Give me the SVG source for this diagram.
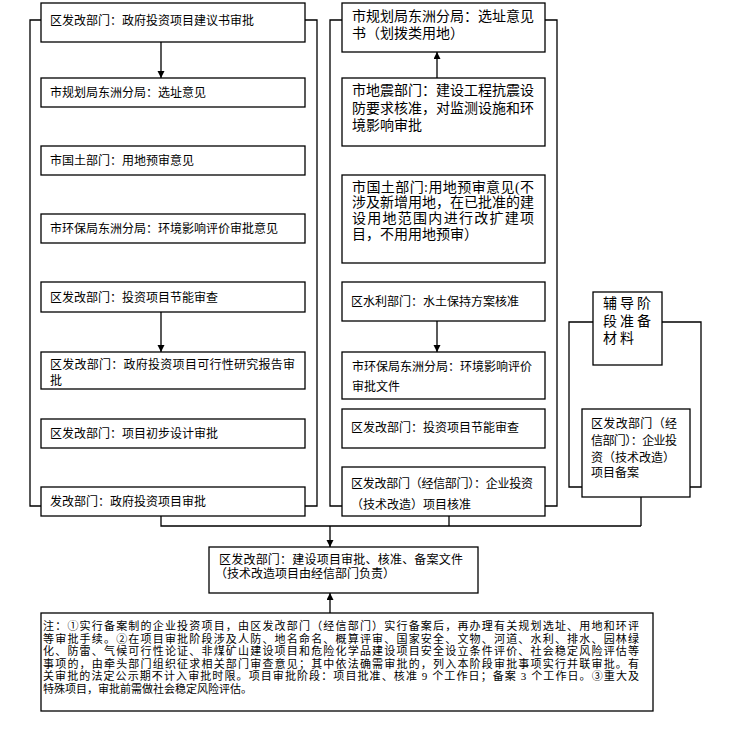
<svg xmlns="http://www.w3.org/2000/svg" width="729" height="730" viewBox="0 0 729 730">
<defs>
<marker id="arr" markerUnits="userSpaceOnUse" markerWidth="8" markerHeight="8" refX="7" refY="3.5" orient="auto">
<path d="M0,0 L7,3.5 L0,7 z" fill="#000"/>
</marker>
<style>
rect{fill:#fff;stroke:#000;stroke-width:1.3}
text{font-family:"Noto Sans CJK SC","Noto Sans CJK TC",sans-serif;font-size:12px;fill:#000}
text.m{font-family:"Liberation Serif","Noto Sans CJK SC",sans-serif}
.b{font-size:14px}
.n{font-family:"Liberation Serif","Noto Sans CJK SC",sans-serif;font-size:11px}
.c line,.c polyline{stroke:#000;stroke-width:1.3;fill:none}
.a{marker-end:url(#arr)}
</style>
</defs>
<rect x="0" y="0" width="729" height="730" style="fill:#fff;stroke:none"/>
<g class="c" id="connectors">
<polyline points="41,20 30,20 30,506 41,506"/>
<polyline points="305,20 317,20 317,506 305,506"/>
<polyline points="342,20 330,20 330,506 342,506"/>
<polyline points="545,20 557,20 557,506 545,506"/>
<polyline points="593,322 569,322 569,487 582,487"/>
<polyline points="662,322 701,322 701,487 690,487"/>
<line class="a" x1="161" y1="42" x2="161" y2="78"/>
<line class="a" x1="161" y1="312" x2="161" y2="352"/>
<line class="a" x1="437" y1="78" x2="437" y2="52"/>
<line class="a" x1="437" y1="321" x2="437" y2="352"/>
<polyline points="161,516 161,526 641,526"/>
<line x1="449" y1="516" x2="449" y2="526"/>
<line x1="641" y1="497" x2="641" y2="526"/>
<line class="a" x1="330" y1="526" x2="330" y2="547"/>
<line class="a" x1="330" y1="613" x2="330" y2="593"/>
</g>
<g id="L1"><rect x="41" y="3" width="264" height="39"/><text x="50" y="25">区发改部门：政府投资项目建议书审批</text></g>
<g id="L2"><rect x="41" y="78" width="264" height="29"/><text x="50" y="97">市规划局东洲分局：选址意见</text></g>
<g id="L3"><rect x="41" y="146" width="264" height="29"/><text x="50" y="165">市国土部门：用地预审意见</text></g>
<g id="L4"><rect x="41" y="214" width="264" height="29"/><text x="50" y="233">市环保局东洲分局：环境影响评价审批意见</text></g>
<g id="L5"><rect x="41" y="282" width="264" height="30"/><text x="50" y="302">区发改部门：投资项目节能审查</text></g>
<g id="L6"><rect x="41" y="352" width="264" height="37"/><text class="m"><tspan x="50" y="369" textLength="245" lengthAdjust="spacing">区发改部门：政府投资项目可行性研究报告审</tspan><tspan x="50" y="385">批</tspan></text></g>
<g id="L7"><rect x="41" y="419" width="264" height="29"/><text x="50" y="438">区发改部门：项目初步设计审批</text></g>
<g id="L8"><rect x="41" y="487" width="264" height="29"/><text x="50" y="506">发改部门：政府投资项目审批</text></g>
<g id="R1"><rect x="342" y="3" width="203" height="49"/><text class="b m"><tspan x="352" y="21">市规划局东洲分局：选址意见</tspan><tspan x="352" y="38">书（划拨类用地）</tspan></text></g>
<g id="R2"><rect x="342" y="78" width="203" height="68"/><text class="b m"><tspan x="352" y="95">市地震部门：建设工程抗震设</tspan><tspan x="352" y="113">防要求核准，对监测设施和环</tspan><tspan x="352" y="130">境影响审批</tspan></text></g>
<g id="R3"><rect x="342" y="175" width="203" height="88"/><text class="b m"><tspan x="352" y="191.5" textLength="182" lengthAdjust="spacing">市国土部门:用地预审意见(不</tspan><tspan x="352" y="207.3">涉及新增用地，在已批准的建</tspan><tspan x="352" y="223.1" textLength="182" lengthAdjust="spacing">设用地范围内进行改扩建项</tspan><tspan x="352" y="238.9">目，不用用地预审）</tspan></text></g>
<g id="R4"><rect x="342" y="282" width="203" height="39"/><text x="351" y="306">区水利部门：水土保持方案核准</text></g>
<g id="R5"><rect x="342" y="352" width="203" height="47"/><text class="m"><tspan x="352" y="371">市环保局东洲分局：环境影响评价</tspan><tspan x="352" y="391">审批文件</tspan></text></g>
<g id="R6"><rect x="342" y="409" width="203" height="39"/><text x="351" y="432">区发改部门：投资项目节能审查</text></g>
<g id="R7"><rect x="342" y="467" width="203" height="49"/><text class="m"><tspan x="351" y="488" textLength="182" lengthAdjust="spacing">区发改部门（经信部门）：企业投资</tspan><tspan x="351" y="509">（技术改造）项目核准</tspan></text></g>
<g id="S1"><rect x="593" y="292" width="69" height="73"/><text class="b m" letter-spacing="3"><tspan x="603" y="308">辅导阶</tspan><tspan x="603" y="325.5">段准备</tspan><tspan x="603" y="343">材料</tspan></text></g>
<g id="S2"><rect x="582" y="409" width="108" height="88"/><text class="m"><tspan x="591" y="428" textLength="86" lengthAdjust="spacing">区发改部门（经</tspan><tspan x="591" y="445" textLength="86" lengthAdjust="spacing">信部门）：企业投</tspan><tspan x="591" y="462">资（技术改造）</tspan><tspan x="591" y="477">项目备案</tspan></text></g>
<g id="B1"><rect x="209" y="547" width="269" height="46"/><text class="m"><tspan x="219" y="564" textLength="244" lengthAdjust="spacing">区发改部门：建设项目审批、核准、备案文件</tspan><tspan x="215" y="578">（技术改造项目由经信部门负责）</tspan></text></g>
<g id="N1"><rect x="41" y="613" width="612" height="98"/>
<text class="n"><tspan x="43" y="630" textLength="596" lengthAdjust="spacing">注：①实行备案制的企业投资项目，由区发改部门（经信部门）实行备案后，再办理有关规划选址、用地和环评</tspan><tspan x="43" y="642.5" textLength="596" lengthAdjust="spacing">等审批手续。②在项目审批阶段涉及人防、地名命名、概算评审、国家安全、文物、河道、水利、排水、园林绿</tspan><tspan x="43" y="655" textLength="596" lengthAdjust="spacing">化、防雷、气候可行性论证、非煤矿山建设项目和危险化学品建设项目安全设立条件评价、社会稳定风险评估等</tspan><tspan x="43" y="667.5" textLength="596" lengthAdjust="spacing">事项的，由牵头部门组织征求相关部门审查意见；其中依法确需审批的，列入本阶段审批事项实行并联审批。有</tspan><tspan x="43" y="680" textLength="596" lengthAdjust="spacing">关审批的法定公示期不计入审批时限。项目审批阶段：项目批准、核准 9 个工作日；备案 3 个工作日。③重大及</tspan><tspan x="43" y="692.5">特殊项目，审批前需做社会稳定风险评估。</tspan></text>
</g>
</svg>
